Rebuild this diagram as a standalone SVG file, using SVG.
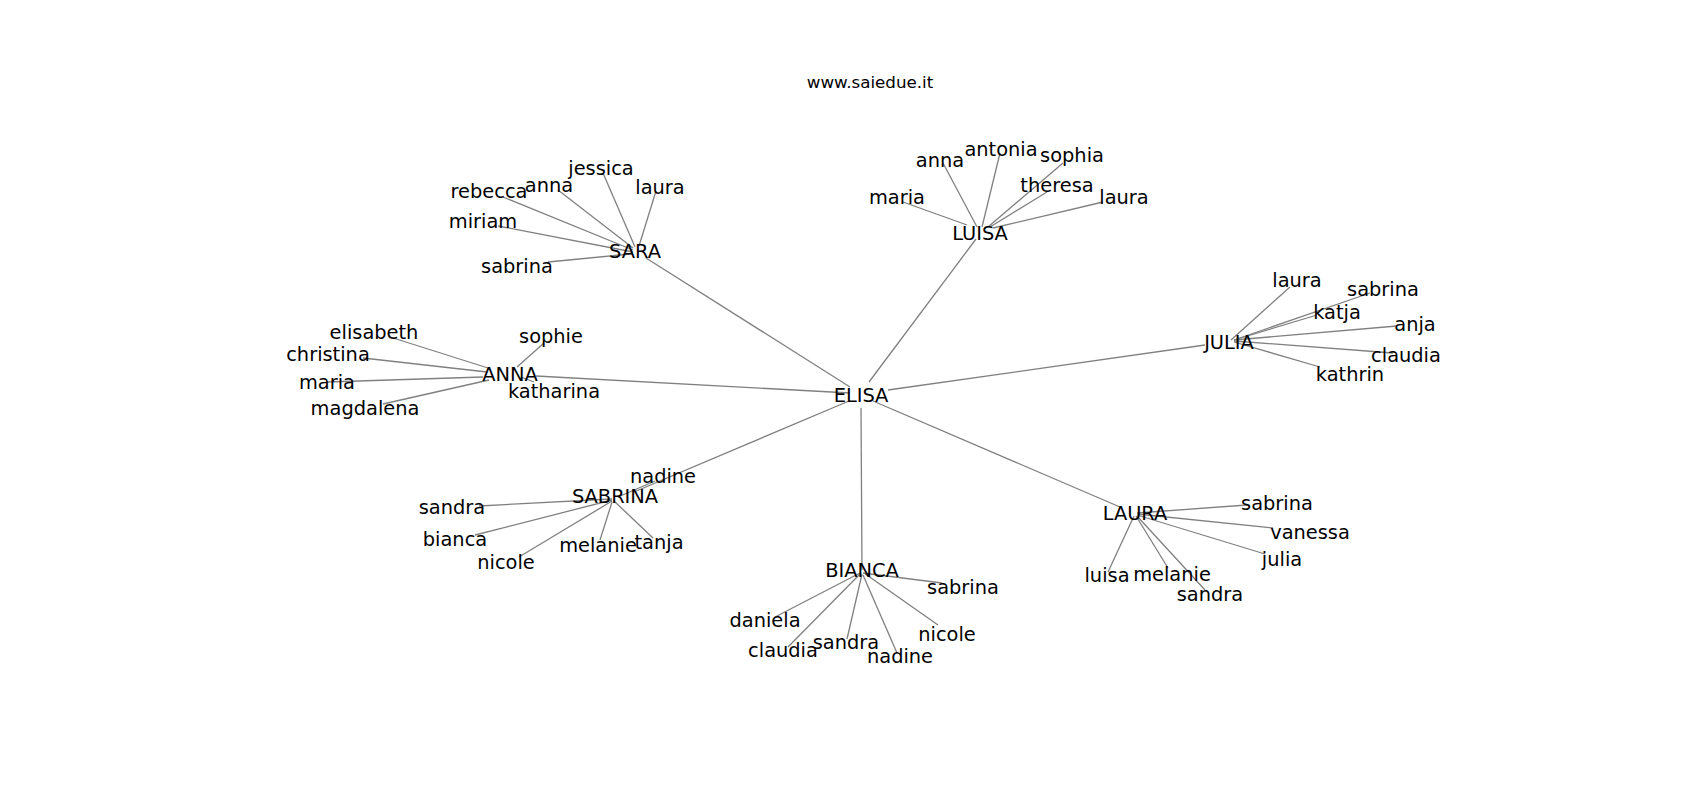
<svg xmlns="http://www.w3.org/2000/svg" width="1700" height="800" viewBox="0 0 1700 800">
<style>
.e line{stroke:#808080;stroke-width:1.3;fill:none}
text{font-family:"DejaVu Sans","Liberation Sans",sans-serif;font-size:19.4px;fill:#000;text-anchor:middle}
.title{font-size:16.7px}
</style>
<rect width="1700" height="800" fill="#fff"/>
<text class="title" x="870" y="88">www.saiedue.it</text>
<g id="connectors" class="e">
<line x1="850" y1="387" x2="646" y2="258"/>
<line x1="869" y1="382" x2="976" y2="239"/>
<line x1="888" y1="390" x2="1205" y2="345"/>
<line x1="850" y1="393" x2="536" y2="376"/>
<line x1="849" y1="401" x2="634" y2="492"/>
<line x1="861" y1="408" x2="862" y2="570"/>
<line x1="873" y1="401" x2="1120" y2="507"/>
<line x1="635" y1="247" x2="603" y2="173"/>
<line x1="633" y1="248" x2="558" y2="190"/>
<line x1="633" y1="250" x2="503" y2="197"/>
<line x1="633" y1="252" x2="498" y2="226"/>
<line x1="630" y1="254" x2="548" y2="262"/>
<line x1="639" y1="246" x2="656" y2="191"/>
<line x1="967" y1="225" x2="903" y2="202"/>
<line x1="977" y1="227" x2="943" y2="163"/>
<line x1="982" y1="227" x2="1000" y2="153"/>
<line x1="988" y1="227" x2="1063" y2="163"/>
<line x1="990" y1="227" x2="1047" y2="192"/>
<line x1="993" y1="228" x2="1103" y2="202"/>
<line x1="1231" y1="340" x2="1290" y2="287"/>
<line x1="1234" y1="340" x2="1370" y2="293"/>
<line x1="1234" y1="340" x2="1317" y2="315"/>
<line x1="1234" y1="340" x2="1397" y2="326"/>
<line x1="1234" y1="341" x2="1393" y2="353"/>
<line x1="1234" y1="342" x2="1320" y2="367"/>
<line x1="488" y1="368" x2="390" y2="337"/>
<line x1="487" y1="372" x2="363" y2="358"/>
<line x1="483" y1="377" x2="327" y2="382"/>
<line x1="489" y1="380" x2="383" y2="404"/>
<line x1="517" y1="367" x2="544" y2="343"/>
<line x1="521" y1="377" x2="534" y2="382"/>
<line x1="618" y1="497" x2="655" y2="481"/>
<line x1="612" y1="499" x2="479" y2="506"/>
<line x1="612" y1="500" x2="475" y2="535"/>
<line x1="612" y1="501" x2="519" y2="557"/>
<line x1="612" y1="502" x2="600" y2="540"/>
<line x1="614" y1="501" x2="653" y2="538"/>
<line x1="863" y1="573" x2="942" y2="583"/>
<line x1="860" y1="573" x2="775" y2="617"/>
<line x1="860" y1="574" x2="788" y2="647"/>
<line x1="862" y1="574" x2="847" y2="639"/>
<line x1="863" y1="575" x2="897" y2="653"/>
<line x1="864" y1="573" x2="938" y2="625"/>
<line x1="1137" y1="513" x2="1247" y2="505"/>
<line x1="1137" y1="514" x2="1273" y2="528"/>
<line x1="1137" y1="515" x2="1265" y2="554"/>
<line x1="1134" y1="516" x2="1108" y2="572"/>
<line x1="1136" y1="516" x2="1168" y2="568"/>
<line x1="1137" y1="516" x2="1205" y2="590"/>
</g>
<g id="ELISA"><text x="861" y="402">ELISA</text></g>
<g id="SARA"><text x="635" y="258">SARA</text></g>
<g id="LUISA"><text x="980" y="240">LUISA</text></g>
<g id="JULIA"><text x="1229" y="349">JULIA</text></g>
<g id="ANNA"><text x="510" y="381">ANNA</text></g>
<g id="SABRINA"><text x="615" y="503">SABRINA</text></g>
<g id="BIANCA"><text x="862" y="577">BIANCA</text></g>
<g id="LAURA"><text x="1135" y="520">LAURA</text></g>
<g id="sara-jessica"><text x="601" y="175">jessica</text></g>
<g id="sara-laura"><text x="660" y="194">laura</text></g>
<g id="sara-anna"><text x="549" y="192">anna</text></g>
<g id="sara-rebecca"><text x="489" y="198">rebecca</text></g>
<g id="sara-miriam"><text x="483" y="228">miriam</text></g>
<g id="sara-sabrina"><text x="517" y="273">sabrina</text></g>
<g id="luisa-maria"><text x="897" y="204">maria</text></g>
<g id="luisa-anna"><text x="940" y="167">anna</text></g>
<g id="luisa-antonia"><text x="1001" y="156">antonia</text></g>
<g id="luisa-sophia"><text x="1072" y="162">sophia</text></g>
<g id="luisa-theresa"><text x="1057" y="192">theresa</text></g>
<g id="luisa-laura"><text x="1124" y="204">laura</text></g>
<g id="julia-laura"><text x="1297" y="287">laura</text></g>
<g id="julia-sabrina"><text x="1383" y="296">sabrina</text></g>
<g id="julia-katja"><text x="1337" y="319">katja</text></g>
<g id="julia-anja"><text x="1415" y="331">anja</text></g>
<g id="julia-claudia"><text x="1406" y="362">claudia</text></g>
<g id="julia-kathrin"><text x="1350" y="381">kathrin</text></g>
<g id="anna-elisabeth"><text x="374" y="339">elisabeth</text></g>
<g id="anna-christina"><text x="328" y="361">christina</text></g>
<g id="anna-maria"><text x="327" y="389">maria</text></g>
<g id="anna-magdalena"><text x="365" y="415">magdalena</text></g>
<g id="anna-sophie"><text x="551" y="343">sophie</text></g>
<g id="anna-katharina"><text x="554" y="398">katharina</text></g>
<g id="sabrina-nadine"><text x="663" y="483">nadine</text></g>
<g id="sabrina-sandra"><text x="452" y="514">sandra</text></g>
<g id="sabrina-bianca"><text x="455" y="546">bianca</text></g>
<g id="sabrina-nicole"><text x="506" y="569">nicole</text></g>
<g id="sabrina-melanie"><text x="598" y="552">melanie</text></g>
<g id="sabrina-tanja"><text x="659" y="549">tanja</text></g>
<g id="bianca-sabrina"><text x="963" y="594">sabrina</text></g>
<g id="bianca-daniela"><text x="765" y="627">daniela</text></g>
<g id="bianca-claudia"><text x="783" y="657">claudia</text></g>
<g id="bianca-sandra"><text x="846" y="649">sandra</text></g>
<g id="bianca-nadine"><text x="900" y="663">nadine</text></g>
<g id="bianca-nicole"><text x="947" y="641">nicole</text></g>
<g id="laura-sabrina"><text x="1277" y="510">sabrina</text></g>
<g id="laura-vanessa"><text x="1310" y="539">vanessa</text></g>
<g id="laura-julia"><text x="1282" y="566">julia</text></g>
<g id="laura-luisa"><text x="1107" y="582">luisa</text></g>
<g id="laura-melanie"><text x="1172" y="581">melanie</text></g>
<g id="laura-sandra"><text x="1210" y="601">sandra</text></g>
</svg>
